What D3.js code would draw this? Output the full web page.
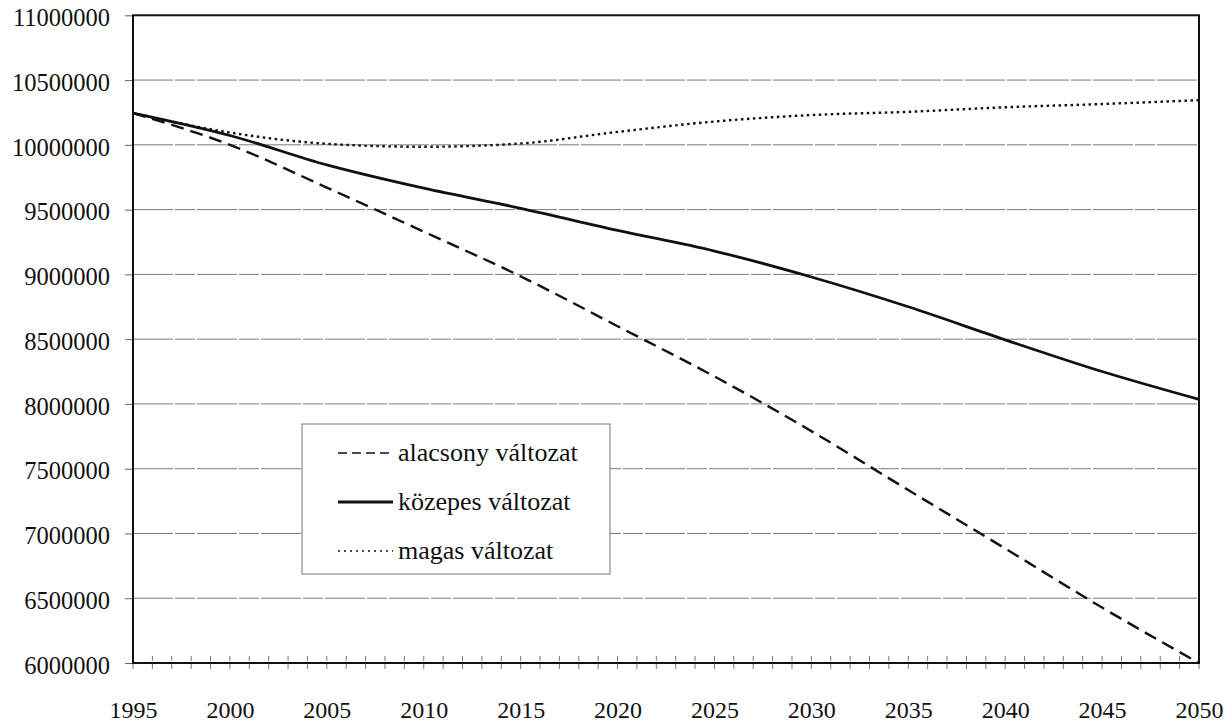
<!DOCTYPE html>
<html>
<head>
<meta charset="utf-8">
<script src="https://cdn.jsdelivr.net/npm/d3@7"></script>
<style>
  body { margin: 0; background: #fff; }
  svg { display: block; }
  svg text { font-family: "Liberation Serif", "Times New Roman", Times, "DejaVu Serif", serif; }
</style>
</head>
<body>
<svg class="chart" width="1232" height="725"></svg>
<script>
// years and the three projection variants
const years = [1995, 2000, 2005, 2010, 2015, 2020, 2025, 2030, 2035, 2040, 2045, 2050]
const alacsony = [10245000, 10000000, 9670000, 9330000, 8985000, 8600000, 8212000, 7790000, 7335000, 6884000, 6428000, 6000000]
const kozepes = [10245000, 10072000, 9845000, 9665000, 9510000, 9340000, 9180000, 8980000, 8750000, 8495000, 8250000, 8035000]
const magas = [10245000, 10095000, 10008000, 9985000, 10010000, 10100000, 10180000, 10230000, 10255000, 10290000, 10315000, 10345000]

const yTicks = d3.range(6000000, 11000001, 500000)
const xLabelYears = d3.range(1995, 2051, 5)
const minorYears = d3.range(1995, 2051, 1)

const seriesNames = ["alacsony változat", "közepes változat", "magas változat"]

const svg = d3.select("svg.chart")

const plotLeft = 133
const plotRight = 1199
const plotTop = 15.3
const plotBottom = 663

const scaleX = d3.scaleLinear()
    .domain([1995, 2050])
    .range([plotLeft, plotRight])

const scaleY = d3.scaleLinear()
    .domain([6000000, 11000000])
    .range([plotBottom, plotTop])

// grid lines
svg.append("g")
    .selectAll("line")
    .data(yTicks.filter(d => d > 6000000 && d < 11000000))
    .enter().append("line")
    .attr("x1", plotLeft)
    .attr("x2", plotRight)
    .attr("y1", d => scaleY(d))
    .attr("y2", d => scaleY(d))
    .attr("stroke", "#7a7a7a")
    .attr("stroke-width", 1)
    .attr("stroke-dasharray", "40,2,20,2")

// y axis with labels
const axisY = d3.axisLeft(scaleY)
    .tickValues(yTicks)
    .tickSize(8)
    .tickPadding(15)
    .tickFormat(d3.format("d"))

const axisYGroup = svg.append("g")
    .attr("transform", `translate(${plotLeft}, 0)`)
    .call(axisY)
axisYGroup.select(".domain").remove()
axisYGroup.attr("font-family", null)
axisYGroup.selectAll(".tick line").attr("stroke", "#666")
axisYGroup.selectAll(".tick text")
    .attr("font-size", "24.5px")
    .attr("fill", "#111")
    .attr("dy", "0.42em")

// minor year ticks crossing the x axis
svg.append("g")
    .selectAll("line")
    .data(minorYears)
    .enter().append("line")
    .attr("x1", d => scaleX(d))
    .attr("x2", d => scaleX(d))
    .attr("y1", plotBottom - 7)
    .attr("y2", plotBottom + 9)
    .attr("stroke", "#777")
    .attr("stroke-width", 1)
    .attr("stroke-dasharray", "5,3")

// x labels
const axisX = d3.axisBottom(scaleX)
    .tickValues(xLabelYears)
    .tickSize(0)
    .tickPadding(38)
    .tickFormat(d3.format("d"))

const axisXGroup = svg.append("g")
    .attr("transform", `translate(0, ${plotBottom})`)
    .call(axisX)
axisXGroup.select(".domain").remove()
axisXGroup.attr("font-family", null)
axisXGroup.selectAll(".tick text")
    .attr("font-size", "24px")
    .attr("fill", "#111")

// frame
svg.append("rect")
    .attr("x", plotLeft)
    .attr("y", plotTop)
    .attr("width", plotRight - plotLeft)
    .attr("height", plotBottom - plotTop)
    .attr("fill", "none")
    .attr("stroke", "#111")
    .attr("stroke-width", 2)

// lines
const line = d3.line()
    .x((d, i) => scaleX(years[i]))
    .y(d => scaleY(d))
    .curve(d3.curveMonotoneX)

const styles = [
    { data: alacsony, width: 2.4, dash: "13,7" },
    { data: kozepes, width: 2.8, dash: null },
    { data: magas, width: 2.4, dash: "2.5,3.5" }
]

svg.append("g")
    .selectAll("path")
    .data(styles)
    .enter().append("path")
    .attr("d", d => line(d.data))
    .attr("fill", "none")
    .attr("stroke", "#111")
    .attr("stroke-width", d => d.width)
    .attr("stroke-dasharray", d => d.dash)

// legend
const legend = svg.append("g")

legend.append("rect")
    .attr("x", 302)
    .attr("y", 424)
    .attr("width", 308)
    .attr("height", 150)
    .attr("fill", "#fff")
    .attr("stroke", "#777")
    .attr("stroke-width", 1)

const legendStyles = [
    { width: 1.6, dash: "9,5" },
    { width: 2.8, dash: null },
    { width: 1.4, dash: "2,4" }
]

const legendRows = legend.selectAll("g.row")
    .data(seriesNames)
    .enter().append("g")
    .attr("class", "row")
    .attr("transform", (d, i) => `translate(0, ${461 + i * 49})`)

legendRows.append("line")
    .attr("x1", 338)
    .attr("x2", 393)
    .attr("y1", -8)
    .attr("y2", -8)
    .attr("stroke", "#111")
    .attr("stroke-width", (d, i) => legendStyles[i].width)
    .attr("stroke-dasharray", (d, i) => legendStyles[i].dash)

legendRows.append("text")
    .attr("x", 398)
    .attr("y", 0)
    .attr("font-size", "26px")
    .attr("fill", "#111")
    .text(d => d)
</script>
</body>
</html>
